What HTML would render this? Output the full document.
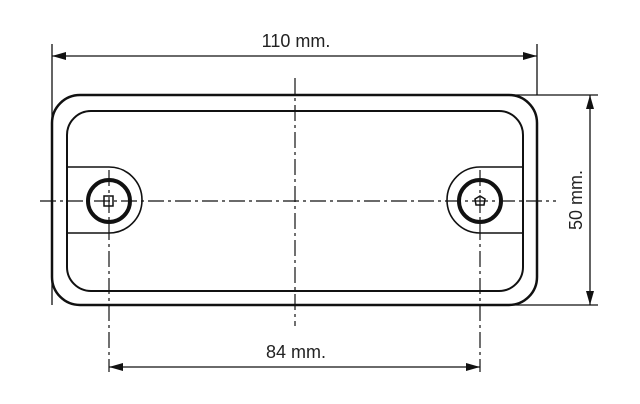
<!DOCTYPE html>
<html><head><style>html,body{margin:0;padding:0;background:#fff}svg{display:block}</style></head><body>
<svg width="640" height="404" viewBox="0 0 640 404" xmlns="http://www.w3.org/2000/svg">
<g fill="none" stroke="#111">
<rect x="52" y="95" width="485" height="210" rx="28" stroke-width="2.5"/>
<rect x="67" y="111" width="456" height="180" rx="24" stroke-width="2"/>
<path d="M67 167 H109 A33 33 0 0 1 109 233 H67" stroke-width="1.6"/>
<path d="M523 167 H480 A33 33 0 0 0 480 233 H523" stroke-width="1.6"/>
<circle cx="109" cy="201" r="21" stroke-width="4"/>
<circle cx="480" cy="201" r="21" stroke-width="4"/>
<rect x="104" y="196" width="9" height="10" stroke-width="1.5"/>
<polygon points="480,196 485,199 484,205 476,205 475,199" stroke-width="1.5"/>
<g stroke-width="1.2" stroke-dasharray="16,4,3,4">
<line x1="40" y1="201" x2="556" y2="201"/>
<line x1="295" y1="78" x2="295" y2="326"/>
<line x1="109" y1="170" x2="109" y2="372"/>
<line x1="480" y1="170" x2="480" y2="372"/>
</g>
<g stroke-width="1.3">
<line x1="52" y1="44" x2="52" y2="305"/>
<line x1="537" y1="44" x2="537" y2="95"/>
<line x1="52" y1="56" x2="537" y2="56"/>
<line x1="500" y1="95" x2="598" y2="95"/>
<line x1="500" y1="305" x2="598" y2="305"/>
<line x1="590" y1="95" x2="590" y2="305"/>
<line x1="109" y1="367" x2="480" y2="367"/>
</g>
</g>
<g fill="#111">
<polygon points="52,56 66,52 66,60"/>
<polygon points="537,56 523,52 523,60"/>
<polygon points="590,95 586,109 594,109"/>
<polygon points="590,305 586,291 594,291"/>
<polygon points="109,367 123,363 123,371"/>
<polygon points="480,367 466,363 466,371"/>
</g>
<g font-family="Liberation Sans, sans-serif" font-size="18" fill="#222" text-anchor="middle">
<text x="296" y="47">110 mm.</text>
<text x="296" y="358">84 mm.</text>
<text transform="translate(582,200) rotate(-90)">50 mm.</text>
</g>
</svg>
</body></html>
